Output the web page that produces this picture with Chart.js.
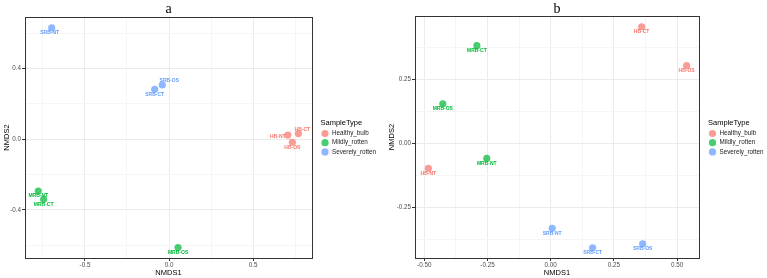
<!DOCTYPE html>
<html>
<head>
<meta charset="utf-8">
<script src="https://cdn.jsdelivr.net/npm/chart.js@4/dist/chart.umd.min.js"></script>
<style>
  body { margin:0; background:#fff; }
  #wrap { position:relative; width:767px; height:278px; }
  canvas { position:absolute; top:0; }
</style>
</head>
<body>
<div id="wrap">
  <canvas id="chartA" width="385" height="278" style="left:0px"></canvas>
  <canvas id="chartB" width="382" height="278" style="left:385px"></canvas>
</div>
<script>
// groups / sample names
var groupNames = ["Healthy_bulb", "Mildly_rotten", "Severely_rotten"];
var hbLabels = ["HB-NT", "HB-CT", "HB-OS"];
var mrbLabels = ["MRB-NT", "MRB-CT", "MRB-OS"];
var srbLabels = ["SRB-NT", "SRB-CT", "SRB-OS"];

// panel a (NMDS1, NMDS2)
var hbA_x = [0.707, 0.770, 0.734];
var hbA_y = [0.024, 0.032, -0.017];
var mrbA_x = [-0.778, -0.746, 0.054];
var mrbA_y = [-0.293, -0.340, -0.613];
var srbA_x = [-0.698, -0.085, -0.040];
var srbA_y = [0.630, 0.283, 0.307];

// panel b
var hbB_x = [-0.484, 0.360, 0.538];
var hbB_y = [-0.098, 0.455, 0.303];
var mrbB_x = [-0.253, -0.292, -0.427];
var mrbB_y = [-0.059, 0.381, 0.154];
var srbB_x = [0.006, 0.166, 0.364];
var srbB_y = [-0.332, -0.408, -0.393];

var colors = ["rgba(248,118,109,0.72)", "rgba(0,186,56,0.72)", "rgba(97,156,255,0.72)"];
var textColors = ["#F8766D", "#00BA38", "#619CFF"];
var font = "'Liberation Sans', Arial, sans-serif";

// label nudges (default: under the point)
var labelNudge = {
    "a:SRB-NT": [-2, 5],
    "a:SRB-OS": [7, -4.5],
    "a:HB-NT": [-10, 1.5],
    "a:HB-CT": [4, -4]
};

function pts(xs, ys){
    var out = [];
    for (var i = 0; i < xs.length; i++) out.push({x: xs[i], y: ys[i]});
    return out;
}

function makeDatasets(hx, hy, mx, my, sx, sy){
    var all = [[hx, hy, hbLabels], [mx, my, mrbLabels], [sx, sy, srbLabels]];
    return all.map(function(g, i){
        return {
            label: groupNames[i],
            data: pts(g[0], g[1]),
            names: g[2],
            backgroundColor: colors[i],
            borderWidth: 0,
            pointRadius: 3.6,
            pointHoverRadius: 3.6
        };
    });
}

function isMajor(v, step){
    var r = v / step;
    return Math.abs(r - Math.round(r)) < 1e-6;
}

var decor = {
    id: "decor",
    afterDraw: function(chart, args, opts){
        var c = chart.ctx, a = chart.chartArea;
        c.save();
        // panel border
        c.strokeStyle = "#333333";
        c.lineWidth = 1;
        c.strokeRect(Math.round(a.left) + 0.5, Math.round(a.top) + 0.5, Math.round(a.right - a.left), Math.round(a.bottom - a.top));
        // point labels
        c.font = "bold 5px " + font;
        c.textAlign = "center";
        c.textBaseline = "middle";
        chart.data.datasets.forEach(function(ds, i){
            var meta = chart.getDatasetMeta(i);
            meta.data.forEach(function(p, j){
                var nm = ds.names[j];
                var n = labelNudge[opts.panel + ":" + nm] || [0, 5];
                c.fillStyle = textColors[i];
                c.fillText(nm, p.x + n[0], p.y + n[1]);
            });
        });
        // title
        c.fillStyle = "#000";
        c.font = "14px 'Liberation Serif', serif";
        c.fillText(opts.panel, (a.left + a.right) / 2, 9);
        // legend
        var lx = opts.legendX;
        c.textAlign = "left";
        c.fillStyle = "#000";
        c.font = "7.5px " + font;
        c.fillText("SampleType", lx, 123);
        c.font = "6.3px " + font;
        chart.data.datasets.forEach(function(ds, i){
            var y = 133.5 + i * 9.2;
            c.beginPath();
            c.arc(lx + 4.5, y, 3.6, 0, Math.PI * 2);
            c.fillStyle = colors[i];
            c.fill();
            c.fillStyle = "#222";
            c.fillText(ds.label, lx + 11.5, y);
        });
        c.restore();
    }
};

function makeChart(id, datasets, cfg){
    var tickFont = {family: font, size: 6.3};
    return new Chart(document.getElementById(id), {
        type: "scatter",
        data: {datasets: datasets},
        plugins: [decor],
        options: {
            responsive: false,
            animation: false,
            layout: {padding: {left: 0, right: cfg.rightPad, top: cfg.top, bottom: 0}},
            plugins: {
                legend: {display: false},
                tooltip: {enabled: false},
                decor: {panel: cfg.panel, legendX: cfg.legendX}
            },
            scales: {
                x: {
                    type: "linear",
                    min: cfg.xmin, max: cfg.xmax,
                    afterFit: function(s){ s.height = 20; },
                    border: {display: false},
                    grid: {
                        color: function(ctx){ return isMajor(ctx.tick.value, cfg.xMajor) ? "#ebebeb" : "#f5f5f5"; },
                        tickColor: function(ctx){ return isMajor(ctx.tick.value, cfg.xMajor) ? "#333333" : "rgba(0,0,0,0)"; },
                        tickLength: 3
                    },
                    ticks: {
                        stepSize: cfg.xMajor / 2,
                        includeBounds: false,
                        autoSkip: false,
                        maxRotation: 0,
                        padding: 0,
                        color: "#4d4d4d",
                        font: tickFont,
                        callback: function(v){ return isMajor(v, cfg.xMajor) ? v.toFixed(cfg.xDec) : ""; }
                    },
                    title: {display: true, text: "NMDS1", color: "#000", font: {family: font, size: 7.5}, padding: {top: 0, bottom: 1}}
                },
                y: {
                    type: "linear",
                    min: cfg.ymin, max: cfg.ymax,
                    afterFit: function(s){ s.width = cfg.yWidth; },
                    border: {display: false},
                    grid: {
                        color: function(ctx){ return isMajor(ctx.tick.value, cfg.yMajor) ? "#ebebeb" : "#f5f5f5"; },
                        tickColor: function(ctx){ return isMajor(ctx.tick.value, cfg.yMajor) ? "#333333" : "rgba(0,0,0,0)"; },
                        tickLength: 3
                    },
                    ticks: {
                        stepSize: cfg.yMajor / 2,
                        includeBounds: false,
                        autoSkip: false,
                        padding: 1,
                        color: "#4d4d4d",
                        font: tickFont,
                        callback: function(v){ return isMajor(v, cfg.yMajor) ? v.toFixed(cfg.yDec) : ""; }
                    },
                    title: {display: true, text: "NMDS2", color: "#000", font: {family: font, size: 7.5}, padding: {top: 2, bottom: 0}}
                }
            }
        }
    });
}

makeChart("chartA", makeDatasets(hbA_x, hbA_y, mrbA_x, mrbA_y, srbA_x, srbA_y), {
    panel: "a", rightPad: 73, top: 17, legendX: 320.5, yWidth: 25,
    xmin: -0.857, xmax: 0.851, xMajor: 0.5, xDec: 1,
    ymin: -0.672, ymax: 0.692, yMajor: 0.4, yDec: 1
});

makeChart("chartB", makeDatasets(hbB_x, hbB_y, mrbB_x, mrbB_y, srbB_x, srbB_y), {
    panel: "b", rightPad: 68, top: 16, legendX: 323, yWidth: 30,
    xmin: -0.537, xmax: 0.587, xMajor: 0.25, xDec: 2,
    ymin: -0.448, ymax: 0.497, yMajor: 0.25, yDec: 2
});
</script>
</body>
</html>
